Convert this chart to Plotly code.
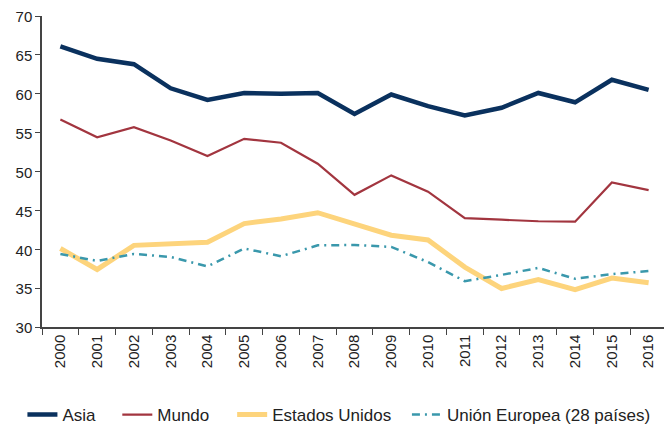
import plotly.graph_objects as go

years = [str(y) for y in range(2000, 2017)]
asia = [66.1, 64.5, 63.8, 60.7, 59.2, 60.1, 60.0, 60.1, 57.4, 59.9, 58.4, 57.2, 58.2, 60.1, 58.9, 61.8, 60.5]
mundo = [56.7, 54.4, 55.7, 54.0, 52.0, 54.2, 53.7, 51.0, 47.0, 49.5, 47.4, 44.0, 43.8, 43.6, 43.55, 48.6, 47.6]
eeuu = [40.1, 37.4, 40.5, 40.65, 40.9, 43.3, 43.9, 44.7, 43.25, 41.8, 41.2, 37.7, 34.95, 36.1, 34.8, 36.3, 35.7]
ue = [39.4, 38.5, 39.4, 39.0, 37.8, 40.1, 39.1, 40.5, 40.55, 40.3, 38.35, 35.9, 36.7, 37.6, 36.2, 36.8, 37.2]

OFF = 8  # page body margin
W, H = 672 - OFF, 425 - OFF
L, R, T = 41.6 - OFF, 4.6, 16 - OFF
B = H - (327 - OFF)
pw = W - L - R
ph = H - T - B


def px2paper(px):
    return (px - OFF - L) / pw


leg_y = (H - B - (415 - OFF)) / ph
text_starts = [64, 159, 274, 449]
leg_names = ["legend", "legend2", "legend3", "legend4"]

fig = go.Figure()
fig.add_trace(go.Scatter(x=years, y=asia, name="Asia", mode="lines", legend="legend",
                         line=dict(color="#0a315e", width=4.5)))
fig.add_trace(go.Scatter(x=years, y=mundo, name="Mundo", mode="lines", legend="legend2",
                         line=dict(color="#a2353f", width=2.2)))
fig.add_trace(go.Scatter(x=years, y=eeuu, name="Estados Unidos", mode="lines", legend="legend3",
                         line=dict(color="#fdd47c", width=5)))
fig.add_trace(go.Scatter(x=years, y=ue, name="Unión Europea (28 países)", mode="lines", legend="legend4",
                         line=dict(color="#3a98ac", width=2.5, dash="8px,5px,2px,5px")))

legends = {}
for name, ts in zip(leg_names, text_starts):
    legends[name] = dict(orientation="h", x=px2paper(ts - 42), xanchor="left",
                         y=leg_y, yanchor="middle", font=dict(size=17),
                         bgcolor="rgba(0,0,0,0)")

fig.update_layout(
    width=W, height=H,
    margin=dict(l=L, r=R, t=T, b=B, autoexpand=False),
    paper_bgcolor="white", plot_bgcolor="white",
    font=dict(family="Liberation Sans, Arial, sans-serif", color="#222222"),
    showlegend=True,
    xaxis=dict(type="category", range=[-0.5, 16.5], tickangle=-90, tickson="boundaries",
               ticks="outside", ticklen=6, tickcolor="#444444", automargin=False,
               showline=True, linecolor="#444444", linewidth=1.5,
               showgrid=False, tickfont=dict(size=15), fixedrange=True,
               ticklabeloverflow="allow"),
    yaxis=dict(range=[30, 70], dtick=5, ticks="outside", ticklen=5, tickcolor="#444444",
               showline=True, linecolor="#444444", linewidth=1.5, automargin=False,
               showgrid=False, zeroline=False, tickfont=dict(size=15),
               ticklabeloverflow="allow", ticklabelshift=1),
    **legends,
)

fig.write_html("out.html")
